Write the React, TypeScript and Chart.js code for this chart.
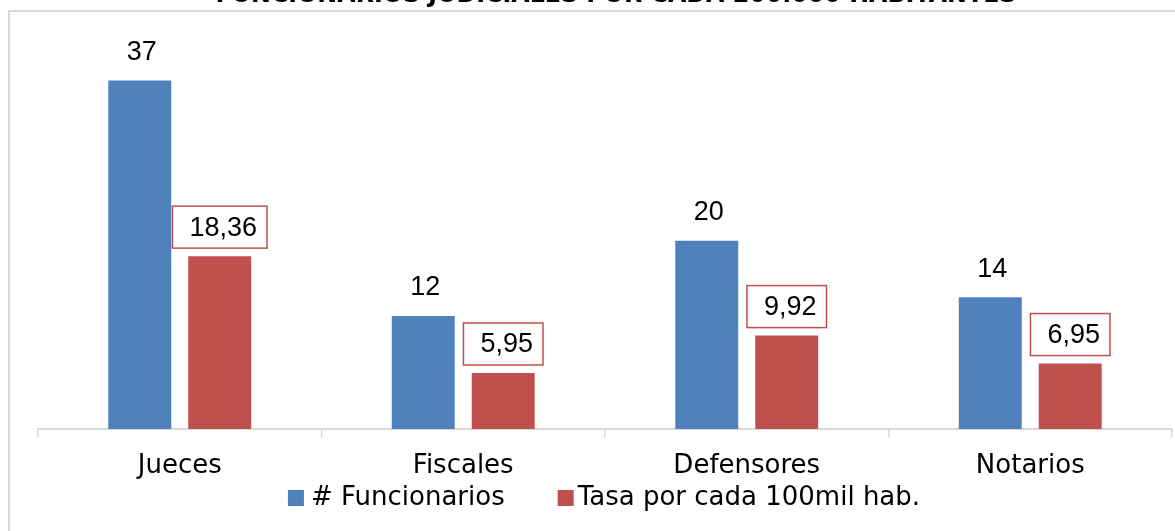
import React, { useEffect, useRef } from "react";
import { Chart, registerables } from "chart.js";

Chart.register(...registerables);

const titleText = "FUNCIONARIOS JUDICIALES POR CADA 200.000 HABITANTES";
const categories = ["Jueces", "Fiscales", "Defensores", "Notarios"];
const seriesNames = ["# Funcionarios", "Tasa por cada 100mil hab."];
const funcionarios = [37, 12, 20, 14];
const tasa = [18.36, 5.95, 9.92, 6.95];
const seriesColors = ["#4f81bd", "#c0504d"];

const OFF = 40; // canvas is shifted up by this many px so the title is mostly cut off
const W = 1175;
const H = 531 + OFF;
const AXIS_FONT = '"DejaVu Sans", sans-serif';
const LABEL_FONT = '"Liberation Sans", Arial, sans-serif';

const fmt = (v: number, i: number) =>
  i === 0 ? String(v) : v.toFixed(2).replace(".", ",");

const customPlugin = {
  id: "customDraw",
  beforeDraw(chart: any) {
    const ctx = chart.ctx;
    ctx.save();
    ctx.strokeStyle = "#d9d9d9";
    ctx.lineWidth = 2;
    ctx.beginPath();
    ctx.moveTo(9, H + 5);
    ctx.lineTo(9, OFF + 11);
    ctx.lineTo(W + 5, OFF + 11);
    ctx.stroke();
    ctx.restore();
  },
  afterDatasetsDraw(chart: any) {
    const ctx = chart.ctx;
    ctx.save();
    chart.data.datasets.forEach((ds: any, i: number) => {
      const meta = chart.getDatasetMeta(i);
      meta.data.forEach((bar: any, j: number) => {
        const text = fmt(ds.data[j], i);
        ctx.font = `27px ${LABEL_FONT}`;
        ctx.textBaseline = "middle";
        ctx.fillStyle = "#000";
        if (i === 0) {
          ctx.textAlign = "center";
          ctx.fillText(text, bar.x + 2, bar.y - 28);
        } else {
          const tw = ctx.measureText(text).width;
          const bw = tw + 27;
          const bh = 42;
          const left = bar.x - bw / 2;
          const top = bar.y - 8 - bh;
          ctx.fillStyle = "#fff";
          ctx.fillRect(left, top, bw, bh);
          ctx.strokeStyle = seriesColors[1];
          ctx.lineWidth = 1.5;
          ctx.strokeRect(left, top, bw, bh);
          ctx.fillStyle = "#000";
          ctx.textAlign = "left";
          ctx.fillText(text, left + 17, top + bh / 2 + 1);
        }
      });
    });
    ctx.restore();
  },
  afterDraw(chart: any) {
    const ctx = chart.ctx;
    ctx.save();
    // Title (mostly cut off at top)
    ctx.font = `bold 20px ${AXIS_FONT}`;
    const w20 = ctx.measureText(titleText).width;
    const size = (20 * 801) / w20;
    ctx.font = `bold ${size}px ${AXIS_FONT}`;
    ctx.fillStyle = "#000";
    ctx.textAlign = "center";
    ctx.textBaseline = "alphabetic";
    ctx.fillText(titleText, 616, OFF + 2);

    // Legend
    ctx.font = `26px ${AXIS_FONT}`;
    const names = chart.data.datasets.map((d: any) => d.label);
    const w1 = ctx.measureText(names[0]).width;
    const w2 = ctx.measureText(names[1]).width;
    const total = 16 + 7 + w1 + 53 + 16 + 4 + w2;
    let x = 604 - total / 2;
    const cy = OFF + 498;
    ctx.textBaseline = "middle";
    ctx.textAlign = "left";
    ctx.fillStyle = seriesColors[0];
    ctx.fillRect(x, cy - 8, 16, 16);
    ctx.fillStyle = "#000";
    ctx.fillText(names[0], x + 23, cy);
    x += 16 + 7 + w1 + 53;
    ctx.fillStyle = seriesColors[1];
    ctx.fillRect(x, cy - 8, 16, 16);
    ctx.fillStyle = "#000";
    ctx.fillText(names[1], x + 20, cy);
    ctx.restore();
  },
};

export default function App() {
  const ref = useRef<HTMLCanvasElement | null>(null);
  useEffect(() => {
    if (!ref.current) return;
    const chart = new Chart(ref.current, {
      type: "bar",
      data: {
        labels: categories,
        datasets: [
          {
            label: seriesNames[0],
            data: funcionarios,
            backgroundColor: seriesColors[0],
            categoryPercentage: 0.564,
            barPercentage: 0.7875,
          },
          {
            label: seriesNames[1],
            data: tasa,
            backgroundColor: seriesColors[1],
            categoryPercentage: 0.564,
            barPercentage: 0.7875,
          },
        ],
      },
      options: {
        animation: false,
        responsive: false,
        maintainAspectRatio: false,
        layout: { padding: { left: 38, right: 3, top: OFF + 10, bottom: 42 } },
        plugins: {
          legend: { display: false },
          title: { display: false },
          tooltip: { enabled: false },
        },
        scales: {
          x: {
            grid: {
              display: true,
              drawOnChartArea: false,
              drawTicks: true,
              tickLength: 9,
              color: "#d9d9d9",
              lineWidth: 1.5,
            },
            border: { display: true, color: "#d9d9d9", width: 2 },
            ticks: {
              color: "#000",
              padding: 13,
              font: { family: AXIS_FONT, size: 26 },
            },
            afterFit: (s: any) => {
              s.height = 60;
            },
          },
          y: {
            display: false,
            min: 0,
            max: 44.5,
          },
        },
      },
      plugins: [customPlugin],
    });
    return () => chart.destroy();
  }, []);
  return (
    <div
      style={{
        position: "fixed",
        left: 0,
        top: 0,
        width: W,
        height: 531,
        overflow: "hidden",
        background: "#fff",
      }}
    >
      <canvas
        ref={ref}
        width={W}
        height={H}
        style={{ position: "absolute", left: 0, top: -OFF, display: "block" }}
      />
    </div>
  );
}
